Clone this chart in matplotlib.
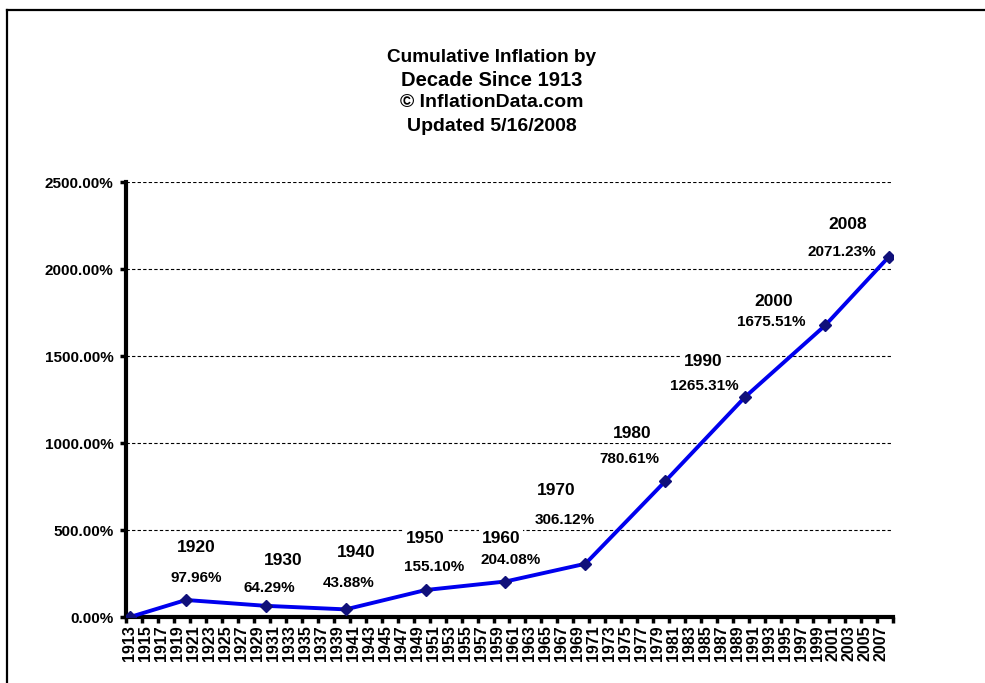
import numpy as np
import matplotlib
matplotlib.use("Agg")
import matplotlib.pyplot as plt
from matplotlib.lines import Line2D

plt.rcParams['font.family'] = ['Liberation Sans', 'DejaVu Sans']

# data
years = [1913, 1920, 1930, 1940, 1950, 1960, 1970, 1980, 1990, 2000, 2008]
inflation = [0.0, 97.96, 64.29, 43.88, 155.10, 204.08, 306.12, 780.61, 1265.31, 1675.51, 2071.23]
label_years = ["1920", "1930", "1940", "1950", "1960", "1970", "1980", "1990", "2000", "2008"]
tick_years = list(range(1913, 2008, 2))
y_ticks = [0, 500, 1000, 1500, 2000, 2500]

# where the labels sit (year label, value label) in data units
year_lbl_pos = [(1921.3, 397), (1932.2, 322), (1941.3, 368), (1950.0, 454), (1959.4, 454),
                (1966.3, 730), (1975.9, 1057), (1984.8, 1466), (1993.6, 1816), (2002.8, 2253)]
val_lbl_pos = [(1921.3, 224), (1930.5, 167), (1940.4, 195), (1951.1, 287), (1960.6, 328),
               (1967.4, 557), (1975.5, 908), (1984.9, 1328), (1993.3, 1695), (2002.1, 2098)]

fig = plt.figure(figsize=(9.85, 6.83), dpi=100)
ax = fig.add_axes([0.1279, 0.0966, 0.7787, 0.6369])

# gridlines
for yv in y_ticks[1:]:
    ax.axhline(yv, color='black', lw=0.8, ls=(0, (3, 2)), zorder=1)

ax.plot(years, inflation, color='#0000ee', lw=2.8, zorder=3)
ax.plot(years, inflation, ls='none', marker='D', ms=6.5, color='#10107a', zorder=4)

bbox = dict(facecolor='white', edgecolor='none', pad=2)
for lab, p in zip(label_years, year_lbl_pos):
    ax.text(p[0], p[1], lab, ha='center', va='center', fontsize=12.5, fontweight='bold',
            bbox=bbox, zorder=2)
for v, p in zip(inflation[1:], val_lbl_pos):
    ax.text(p[0], p[1], f"{v:.2f}%", ha='center', va='center', fontsize=11,
            fontweight='bold', bbox=bbox, zorder=2)

ax.set_xlim(1912.5, 2008.5)
ax.set_ylim(0, 2500)
ax.set_yticks(y_ticks)
ax.set_yticklabels([f"{v:.2f}%" for v in y_ticks], fontsize=11, fontweight='bold')
ax.set_xticks(tick_years)
ax.set_xticklabels([str(y) for y in tick_years], rotation=90, fontsize=11.5, fontweight='bold')
ax.set_xticks(np.arange(1912.5, 2008.6, 2), minor=True)
ax.tick_params(axis='x', which='major', length=0, pad=6)
ax.tick_params(axis='x', which='minor', length=4, width=2.5, direction='out')
ax.tick_params(axis='y', length=4, width=2.5, pad=5)

for s in ['top', 'right']:
    ax.spines[s].set_visible(False)
ax.spines['left'].set_linewidth(3)
ax.spines['bottom'].set_linewidth(3)

fig.text(0.4995, 0.9165, "Cumulative Inflation by", ha='center', va='center',
         fontsize=13.7, fontweight='bold')
fig.text(0.4995, 0.8826, "Decade Since 1913", ha='center', va='center',
         fontsize=14.5, fontweight='bold')
fig.text(0.4995, 0.8492, "\u00a9 InflationData.com", ha='center', va='center',
         fontsize=14, fontweight='bold')
fig.text(0.4995, 0.8141, "Updated 5/16/2008", ha='center', va='center',
         fontsize=14, fontweight='bold')

# frame around the chart
fig.add_artist(Line2D([0.0071, 1.0], [0.9854, 0.9854], color='black', lw=1.6))
fig.add_artist(Line2D([0.0071, 0.0071], [0.0, 0.9854], color='black', lw=1.6))

fig.savefig("out.png", dpi=100)
